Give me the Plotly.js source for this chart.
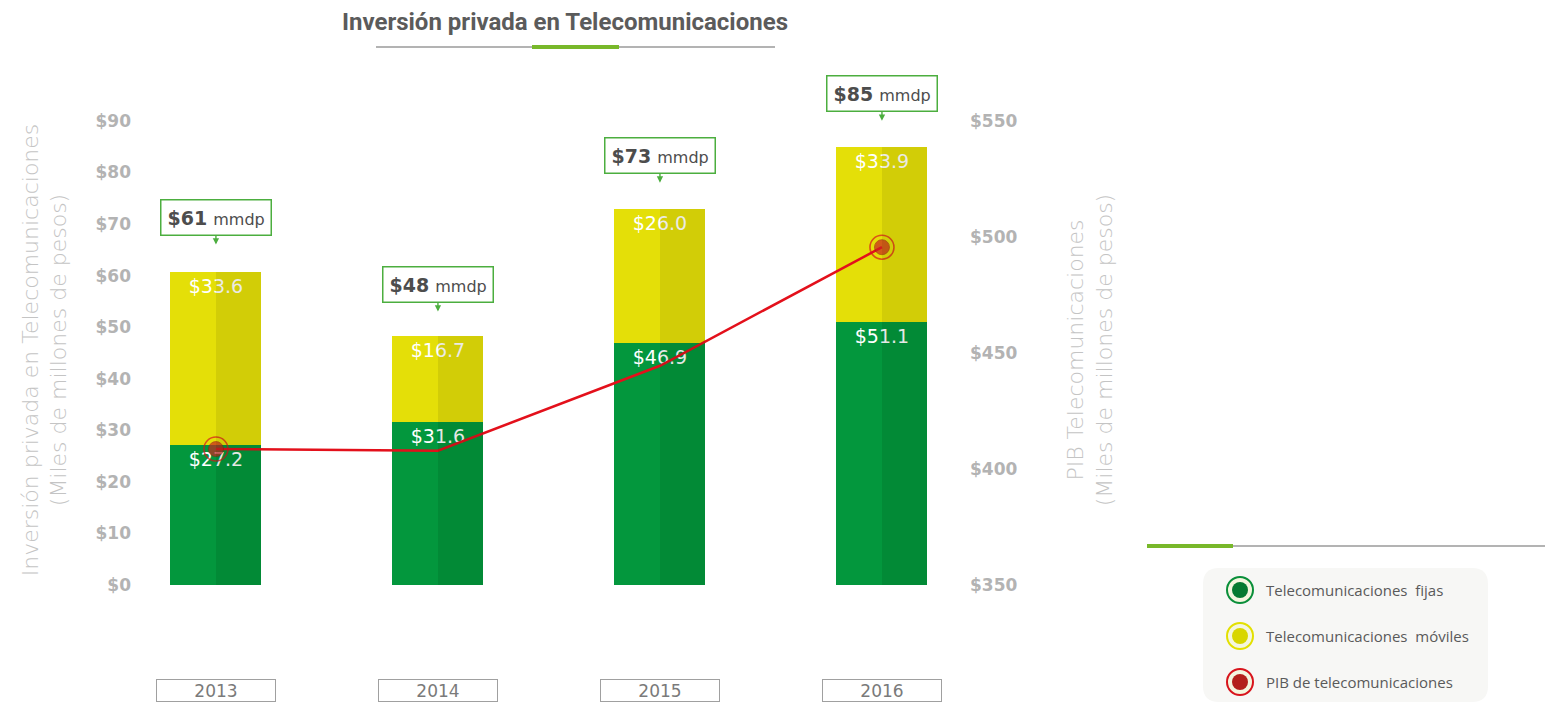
<!DOCTYPE html>
<html>
<head>
<meta charset="utf-8">
<script src="https://cdn.plot.ly/plotly-3.0.1.min.js"></script>
<style>html,body{margin:0;padding:0;background:#fff;}#chart{width:1552px;height:703px;}</style>
</head>
<body>
<div id="chart"></div>
<script>
// ---- data ----
const years = ['2013', '2014', '2015', '2016'];
const fijas = [27.2, 31.6, 46.9, 51.1];
const moviles = [33.6, 16.7, 26.0, 33.9];
const totales = [61, 48, 73, 85];
const pib = [408.6, 407.9, 444.5, 495.6];
const pibMarkerSize = [24, 0, 0, 24];
const pibDotSize = [15, 0, 0, 15];
const leftTicks = [0, 10, 20, 30, 40, 50, 60, 70, 80, 90];
const leftTickLabels = ['$0', '$10', '$20', '$30', '$40', '$50', '$60', '$70', '$80', '$90'];
const rightTicks = [350, 400, 450, 500, 550];
const rightTickLabels = ['$350', '$400', '$450', '$500', '$550'];
const legendLabels = ['Telecomunicaciones&nbsp;&nbsp;fijas', 'Telecomunicaciones&nbsp;&nbsp;móviles', 'PIB de telecomunicaciones'];

// ---- geometry helpers (pixel -> paper) ----
const L = 140, R = 955, T = 100, B = 600;
const px = x => (x - L) / (R - L);
const py = y => (B - y) / (B - T);

const fmt = v => '$' + v.toFixed(1);
const labelFont = {color: '#ffffff', size: 19, family: 'DejaVu Sans'};

const traces = [
  {
    type: 'bar', x: years, y: fijas, name: 'Telecomunicaciones fijas',
    width: 0.41, marker: {color: '#03973d'},
    text: fijas.map(fmt), textposition: 'inside', insidetextanchor: 'end',
    textfont: labelFont, hoverinfo: 'skip', showlegend: false
  },
  {
    type: 'bar', x: years, y: moviles, name: 'Telecomunicaciones móviles',
    width: 0.41, marker: {color: '#e4df08'},
    text: moviles.map(fmt), textposition: 'inside', insidetextanchor: 'end',
    textfont: labelFont, hoverinfo: 'skip', showlegend: false
  },
  // right-half shading (3D look)
  {
    type: 'bar', x: years, y: fijas, xaxis: 'x2', width: 0.205, offset: 0,
    marker: {color: 'rgba(0,30,0,0.10)', line: {width: 0}}, hoverinfo: 'skip', showlegend: false
  },
  {
    type: 'bar', x: years, y: moviles, xaxis: 'x2', width: 0.205, offset: 0,
    marker: {color: 'rgba(60,50,0,0.10)', line: {width: 0}}, hoverinfo: 'skip', showlegend: false
  },
  {
    type: 'scatter', mode: 'lines', x: years, y: pib, yaxis: 'y2',
    line: {color: '#e3101b', width: 2.5}, hoverinfo: 'skip', showlegend: false
  },
  {
    type: 'scatter', mode: 'markers', x: years, y: pib, yaxis: 'y2',
    marker: {symbol: 'circle-open', size: pibMarkerSize, color: '#d8141c', line: {width: 1.6, color: '#d8141c'}},
    hoverinfo: 'skip', showlegend: false
  },
  {
    type: 'scatter', mode: 'markers', x: years, y: pib, yaxis: 'y2',
    marker: {symbol: 'circle', size: pibDotSize, color: '#c9241f', line: {width: 0.8, color: '#9c1a14'}},
    hoverinfo: 'skip', showlegend: false
  }
];

const annotations = [];
// callouts and year labels (x given as category index)
years.forEach((yr, i) => {
  annotations.push({
    x: i, y: totales[i], xref: 'x', yref: 'y',
    text: '<b>$' + totales[i] + '</b> <span style="font-size:16px">mmdp</span>',
    showarrow: true, ax: 0, ay: -53, arrowhead: 2, arrowsize: 0.9, arrowwidth: 1.4,
    arrowcolor: '#4cae3f', standoff: 26,
    font: {family: 'DejaVu Sans', size: 19, color: '#4d4d4d'},
    bgcolor: '#ffffff', bordercolor: '#4cae3f', borderwidth: 1.5, borderpad: 6
  });
  annotations.push({
    x: i, y: py(690), xref: 'x', yref: 'paper', yanchor: 'middle',
    text: yr, showarrow: false, width: 116, height: 19,
    font: {family: 'DejaVu Sans', size: 17, color: '#7a7a7a'},
    bordercolor: '#a0a0a0', borderwidth: 1, borderpad: 1
  });
});
// legend texts
const legendY = [590, 636, 682];
legendLabels.forEach((t, i) => {
  annotations.push({
    x: px(1264), y: py(legendY[i]), xref: 'paper', yref: 'paper',
    xanchor: 'left', yanchor: 'middle', showarrow: false, text: t,
    font: {family: 'Open Sans', size: 15, color: '#5a5a5a'}
  });
});

const shapes = [];
// title underline
shapes.push({type: 'line', xref: 'paper', yref: 'paper', x0: px(376), x1: px(775), y0: py(47), y1: py(47), line: {color: '#b3b3b3', width: 2}});
shapes.push({type: 'line', xref: 'paper', yref: 'paper', x0: px(532), x1: px(619), y0: py(47), y1: py(47), line: {color: '#78b82a', width: 4}});
// legend divider
shapes.push({type: 'line', xref: 'paper', yref: 'paper', x0: px(1147), x1: px(1545), y0: py(546), y1: py(546), line: {color: '#b3b3b3', width: 2}});
shapes.push({type: 'line', xref: 'paper', yref: 'paper', x0: px(1147), x1: px(1233), y0: py(546), y1: py(546), line: {color: '#78b82a', width: 4}});
// legend box (rounded)
(function () {
  const x0 = 1203, x1 = 1488, y0 = 568, y1 = 702, r = 16;
  const p = (x, y) => px(x) + ',' + py(y);
  const path = 'M' + p(x0 + r, y0) + ' L' + p(x1 - r, y0) + ' Q' + p(x1, y0) + ' ' + p(x1, y0 + r) +
    ' L' + p(x1, y1 - r) + ' Q' + p(x1, y1) + ' ' + p(x1 - r, y1) +
    ' L' + p(x0 + r, y1) + ' Q' + p(x0, y1) + ' ' + p(x0, y1 - r) +
    ' L' + p(x0, y0 + r) + ' Q' + p(x0, y0) + ' ' + p(x0 + r, y0) + ' Z';
  shapes.push({type: 'path', xref: 'paper', yref: 'paper', path: path, fillcolor: '#f7f7f5', line: {width: 0}, layer: 'below'});
})();
// legend icons
const iconColors = [['#0a8f3a', '#067a31'], ['#e3e000', '#d8d600'], ['#d8141c', '#b3201a']];
legendY.forEach((yy, i) => {
  shapes.push({type: 'circle', xref: 'paper', yref: 'paper', xsizemode: 'pixel', ysizemode: 'pixel',
    xanchor: px(1240), yanchor: py(yy), x0: -13, x1: 13, y0: -13, y1: 13,
    fillcolor: '#f4f6df', line: {color: iconColors[i][0], width: 2}});
  shapes.push({type: 'circle', xref: 'paper', yref: 'paper', xsizemode: 'pixel', ysizemode: 'pixel',
    xanchor: px(1240), yanchor: py(yy), x0: -8, x1: 8, y0: -8, y1: 8,
    fillcolor: iconColors[i][1], line: {width: 0}});
});

const tickFont = {family: 'DejaVu Sans', size: 17, color: '#b3b3b3', weight: 'bold'};
const axTitleFont = {family: 'DejaVu Sans', size: 22, color: '#c4c4c4', weight: 200};

const layout = {
  width: 1552, height: 703,
  margin: {l: L, r: 1552 - R, t: T, b: 703 - B, pad: 0},
  paper_bgcolor: '#ffffff', plot_bgcolor: 'rgba(0,0,0,0)',
  barmode: 'stack',
  title: {
    text: '<b>Inversión privada en Telecomunicaciones</b>',
    x: 565 / 1552, xanchor: 'center', xref: 'container',
    y: 1 - 22 / 703, yanchor: 'middle', yref: 'container',
    font: {family: 'Roboto', size: 24, color: '#5b5b5b'}
  },
  xaxis: {
    type: 'category', range: [-0.342, 3.329], showticklabels: false,
    showgrid: false, zeroline: false, showline: false, ticks: ''
  },
  xaxis2: {
    type: 'category', overlaying: 'x', range: [-0.342, 3.329], showticklabels: false,
    showgrid: false, zeroline: false, showline: false, ticks: ''
  },
  yaxis: {
    range: [-2.91, 94.07], tickmode: 'array', tickvals: leftTicks, ticktext: leftTickLabels,
    showgrid: false, zeroline: false, showline: false, ticks: '',
    ticklabelstandoff: 8, tickfont: tickFont,
    title: {text: 'Inversión privada en Telecomunicaciones<br>(Miles de millones de pesos)', font: axTitleFont, standoff: 22}
  },
  yaxis2: {
    overlaying: 'y', side: 'right', range: [343.53, 559.05], tickmode: 'array', tickvals: rightTicks, ticktext: rightTickLabels,
    showgrid: false, zeroline: false, showline: false, ticks: '',
    ticklabelstandoff: 14, tickfont: tickFont,
    title: {text: 'PIB Telecomunicaciones<br>(Miles de millones de pesos)', font: axTitleFont, standoff: 51}
  },
  annotations: annotations,
  shapes: shapes,
  showlegend: false
};

Plotly.newPlot('chart', traces, layout, {displayModeBar: false, staticPlot: true});
</script>
</body>
</html>
